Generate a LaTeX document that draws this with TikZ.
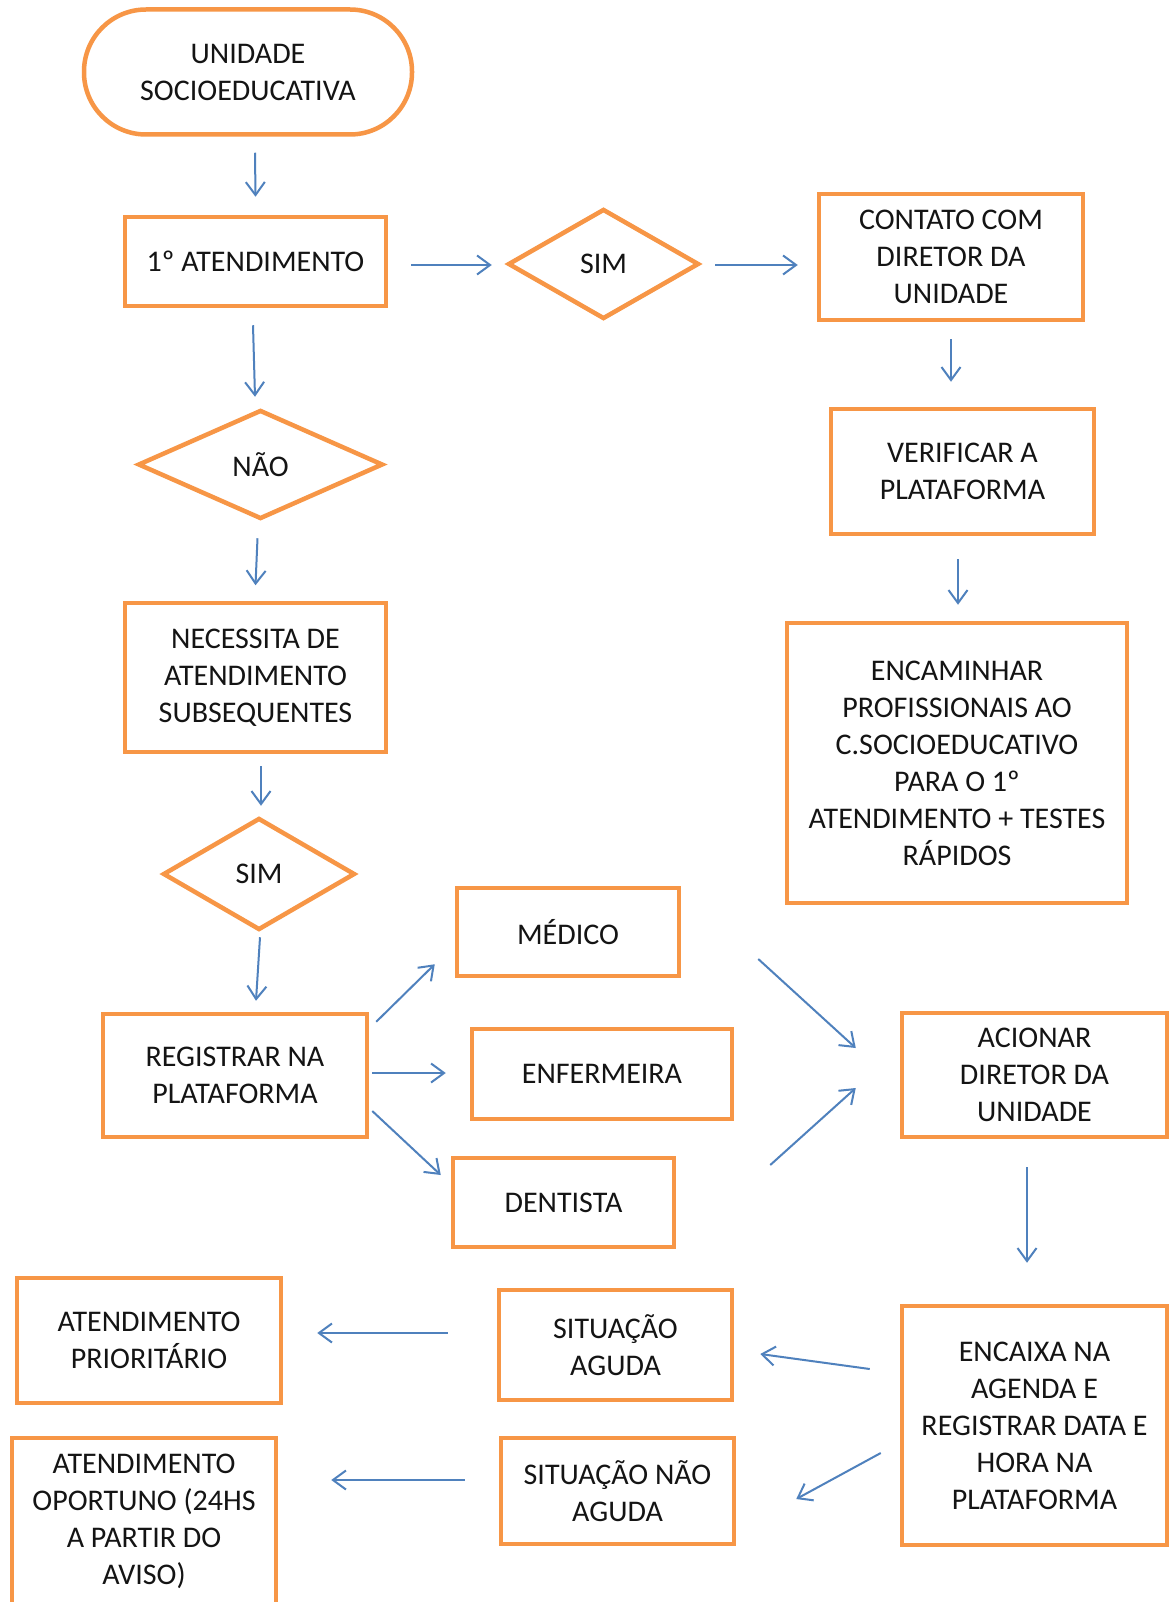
\documentclass[tikz,border=0pt]{standalone}
\usepackage{fontspec}
\setmainfont{Carlito}
\usetikzlibrary{shapes.geometric,arrows.meta}
\definecolor{orng}{HTML}{F79646}
\definecolor{blu}{HTML}{4F81BD}
\definecolor{txt}{HTML}{141414}
\begin{document}
\begin{tikzpicture}[x=1pt,y=-1pt,
  box/.style={draw=orng, line width=4.5pt, text=txt, align=center,
    font=\fontsize{30}{37}\selectfont, inner sep=0pt},
  dia/.style={box, diamond, aspect=1.7},
  arr/.style={draw=blu, line width=2pt, -{Straight Barb[length=13pt,width=19pt]}}]
\useasboundingbox (0,0) rectangle (1171,1602);
\clip (0,0) rectangle (1171,1602);
\fill[white] (0,0) rectangle (1171,1602);

% nodes
\node[box, rounded corners=62pt, minimum width=328pt, minimum height=125pt] (un) at (248,72) {UNIDADE\\SOCIOEDUCATIVA};
\node[box, minimum width=261pt, minimum height=89pt] (at1) at (255.5,261.5) {1º ATENDIMENTO};
\node[dia, minimum width=191pt, minimum height=110pt] (sim1) at (603.5,264) {SIM};
\node[box, minimum width=264pt, minimum height=126pt] (cont) at (951,257) {CONTATO COM\\DIRETOR DA\\UNIDADE};
\node[box, minimum width=263pt, minimum height=125pt] (ver) at (962.5,471.5) {VERIFICAR A\\PLATAFORMA};
\node[box, minimum width=340pt, minimum height=280pt] (enc) at (957,763) {ENCAMINHAR\\PROFISSIONAIS AO\\C.SOCIOEDUCATIVO\\PARA O 1º\\ATENDIMENTO + TESTES\\RÁPIDOS};
\node[dia, minimum width=245pt, minimum height=109pt] (nao) at (260.5,464.5) {NÃO};
\node[box, minimum width=261pt, minimum height=149pt] (nec) at (255.5,677.5) {NECESSITA DE\\ATENDIMENTO\\SUBSEQUENTES};
\node[dia, minimum width=192pt, minimum height=112pt] (sim2) at (259,874) {SIM};
\node[box, minimum width=264pt, minimum height=123pt] (reg) at (235,1075.5) {REGISTRAR NA\\PLATAFORMA};
\node[box, minimum width=222pt, minimum height=88pt] (med) at (568,932) {MÉDICO};
\node[box, minimum width=260pt, minimum height=90pt] (enf) at (602,1074) {ENFERMEIRA};
\node[box, minimum width=221pt, minimum height=89pt] (den) at (563.5,1202.5) {DENTISTA};
\node[box, minimum width=265pt, minimum height=124pt] (aci) at (1034.5,1075) {ACIONAR\\DIRETOR DA\\UNIDADE};
\node[box, minimum width=265pt, minimum height=239pt] (cx) at (1034.5,1425.5) {ENCAIXA NA\\AGENDA E\\REGISTRAR DATA E\\HORA NA\\PLATAFORMA};
\node[box, minimum width=233pt, minimum height=110pt] (sa) at (615.5,1345) {SITUAÇÃO\\AGUDA};
\node[box, minimum width=233pt, minimum height=106pt] (sna) at (617.5,1491) {SITUAÇÃO NÃO\\AGUDA};
\node[box, minimum width=264pt, minimum height=125pt] (ap) at (149,1340.5) {ATENDIMENTO\\PRIORITÁRIO};
\node[box, minimum width=264pt, minimum height=167pt] (ao) at (144,1521.5) {ATENDIMENTO\\OPORTUNO (24HS\\A PARTIR DO\\AVISO)};

% connectors
\draw[arr] ([shift={(7,16)}]un.south) -- ([shift={(0,-18)}]at1.north);
\draw[arr] ([shift={(23,3.5)}]at1.east) -- ([shift={(-14,1)}]sim1.west);
\draw[arr] ([shift={(14,1)}]sim1.east) -- ([shift={(-19,8)}]cont.west);
\draw[arr] ([shift={(0,17)}]cont.south) -- ([shift={(-11.5,-25)}]ver.north);
\draw[arr] ([shift={(-4.5,23)}]ver.south) -- ([shift={(1,-16)}]enc.north);
\draw[arr] ([shift={(-2.5,17)}]at1.south) -- ([shift={(-5.5,-11)}]nao.north);
\draw[arr] ([shift={(-3,17)}]nao.south) -- ([shift={(0,-15.5)}]nec.north);
\draw[arr] ([shift={(5.5,12)}]nec.south) -- ([shift={(2,-10)}]sim2.north);
\draw[arr] ([shift={(1,5)}]sim2.south) -- ([shift={(21,-11)}]reg.north);
\draw[arr] ([shift={(7,10)}]reg.north east) -- ([shift={(-20,-14)}]med.south west);
\draw[arr] ([shift={(3,-2.5)}]reg.east) -- ([shift={(-24,-1)}]enf.west);
\draw[arr] ([shift={(3,35.5)}]reg.east) -- ([shift={(-10,-27.5)}]den.west);
\draw[arr] ([shift={(77,27)}]med.east) -- ([shift={(-44,-27)}]aci.west);
\draw[arr] ([shift={(94,-37.5)}]den.east) -- ([shift={(-44,13)}]aci.west);
\draw[arr] ([shift={(-7.5,28)}]aci.south) -- ([shift={(-7.5,-41)}]cx.north);
\draw[arr] ([shift={(-30,-56.5)}]cx.west) -- ([shift={(26,9)}]sa.east);
\draw[arr] ([shift={(-19,27.5)}]cx.west) -- ([shift={(60,8)}]sna.east);
\draw[arr] ([shift={(-49,-12)}]sa.west) -- ([shift={(34,-7.5)}]ap.east);
\draw[arr] ([shift={(-34,-11)}]sna.west) -- ([shift={(53,-41.5)}]ao.east);
\end{tikzpicture}
\end{document}
